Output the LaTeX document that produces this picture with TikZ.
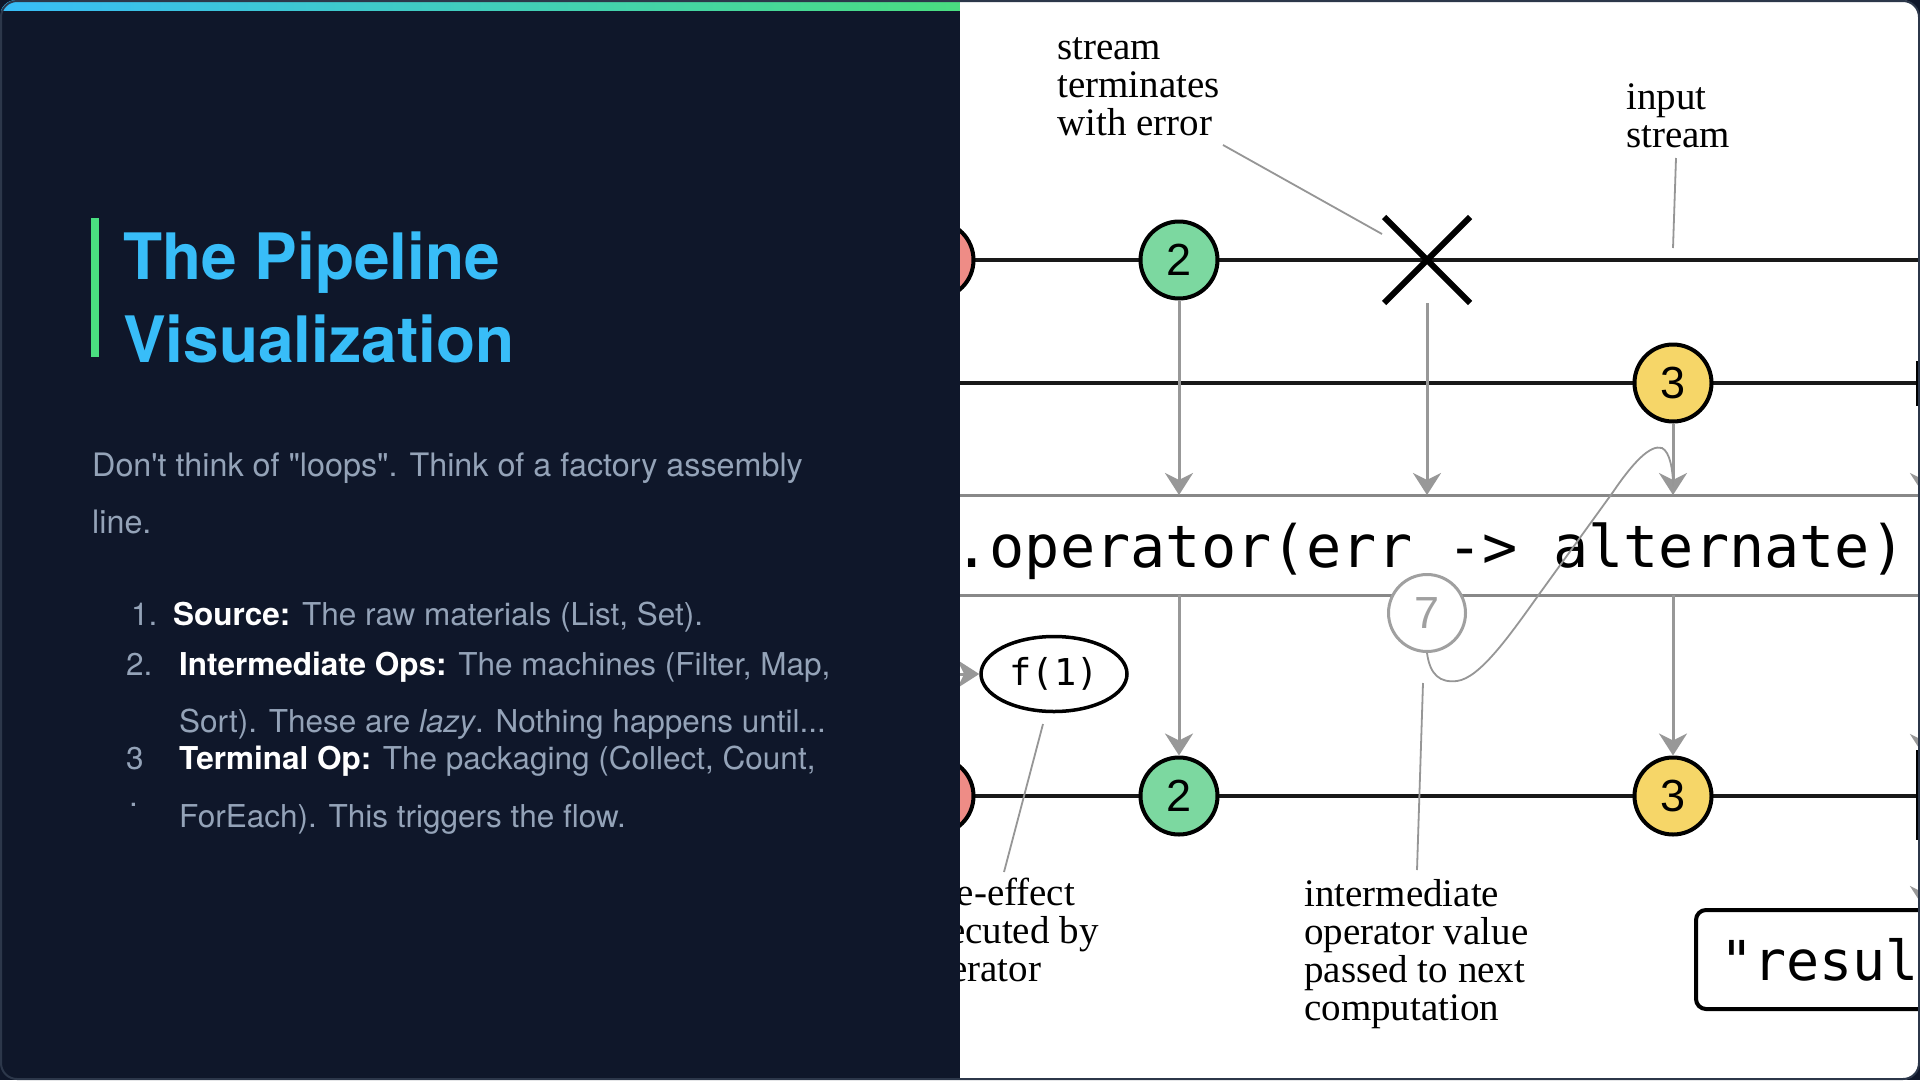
\documentclass[tikz,border=0pt]{standalone}
\usepackage{fontspec}
\setmainfont{Liberation Serif}
\newfontfamily\uifont{TeX Gyre Heros}
\newfontfamily\codefont{DejaVu Sans Mono}
\newfontfamily\digitfont{Liberation Sans}
\usetikzlibrary{
  arrows.meta,
  positioning,
  shapes.geometric,
  shapes.misc
}
\definecolor{slidebg}{RGB}{15,23,42}
\definecolor{slideedge}{RGB}{44,55,74}
\definecolor{skyblue}{RGB}{56,189,248}
\definecolor{mint}{RGB}{74,222,128}
\definecolor{slate}{RGB}{148,163,184}
\definecolor{ballgreen}{RGB}{124,216,160}
\definecolor{ballyellow}{RGB}{246,214,104}
\definecolor{ballred}{RGB}{238,140,134}
\definecolor{flowgray}{RGB}{152,152,152}
\definecolor{boxgray}{RGB}{136,136,136}
\definecolor{leadgray}{RGB}{150,150,150}
\definecolor{sevengray}{RGB}{160,160,160}
\newcommand{\fsz}[2]{\fontsize{#1}{#2}\selectfont}
\newcommand{\itemhead}[1]{{\color{white}\bfseries #1}}

\begin{document}
\begin{tikzpicture}[x=1pt, y=-1pt,
    slidetext/.style={anchor=base west, inner sep=0, text=slate, font=\uifont\fsz{31.5}{36}},
    titletext/.style={anchor=base west, inner sep=0, text=skyblue, font=\uifont\bfseries\fsz{64}{70}},
    stream/.style={draw=black!90, line width=4.5},
    ball/.style={circle, draw=black, line width=4, minimum size=77, inner sep=0, font=\digitfont\fsz{45}{45}},
    flow/.style={draw=flowgray, line width=3, -{Stealth[length=22, width=28, inset=7]}},
    leader/.style={draw=leadgray, line width=1.8},
    note/.style={anchor=base west, align=left, inner sep=0, font=\fsz{39}{38}},
    opbox/.style={draw=boxgray, line width=3, minimum width=1020, minimum height=100, inner sep=0, outer sep=0, text height=52, text depth=8, font=\codefont\fsz{58.5}{60}},
    endbar/.style={draw=black, line width=6}
  ]
  \useasboundingbox (0,0) rectangle (1920,1080);
  \fill[slidebg] (0,0) rectangle (1920,1080);

  \begin{scope}
    \clip[rounded corners=16] (0,0) rectangle (1920,1080);
    % Top Bar
    \shade[left color=skyblue, right color=mint] (0,0) rectangle (960,10);

    % Title
    \fill[mint] (91,218) rectangle (99,357);
    \node[titletext] (title1) at (123,279) {The Pipeline};
    \node[titletext] (title2) at (123,362) {Visualization};

    % Intro
    \node[slidetext, font=\uifont\fsz{32.3}{36}] (intro1) at (92,476) {Don't think of "loops". Think of a factory assembly};
    \node[slidetext, font=\uifont\fsz{32.3}{36}] (intro2) at (92,533) {line.};

    % Steps
    \node[slidetext] (num1) at (131,625) {1.};
    \node[slidetext] (step1) at (173,625) {\itemhead{Source:} The raw materials (List, Set).};
    \node[slidetext] (num2) at (126,675) {2.};
    \node[slidetext] (step2) at (179,675) {\itemhead{Intermediate Ops:} The machines (Filter, Map,};
    \node[slidetext] (step2b) at (179,732) {Sort). These are \textit{lazy}. Nothing happens until...};
    \node[slidetext] (num3) at (126,769) {3};
    \node[slidetext] (num3dot) at (129,806) {.};
    \node[slidetext] (step3) at (179,769) {\itemhead{Terminal Op:} The packaging (Collect, Count,};
    \node[slidetext] (step3b) at (179,827) {ForEach). This triggers the flow.};
  \end{scope}

  % Marble Diagram
  \begin{scope}
    \clip[rounded corners=16] (900,0) rectangle (1918,1080);
    \clip (960,0) rectangle (1918,1080);
    \fill[white] (960,0) rectangle (1918,1080);

    % rows
    \coordinate (row1w) at (900,260);  \coordinate (row1e) at (1940,260);
    \coordinate (row2w) at (900,383);  \coordinate (row2e) at (1940,383);
    \coordinate (row3w) at (900,796);  \coordinate (row3e) at (1940,796);
    \draw[stream] (row1w) -- (row1e);
    \draw[stream] (row2w) -- (row2e);
    \draw[stream] (row3w) -- (row3e);

    % operator box
    \node[opbox] (op) at (1430,545) {.operator(err -> alternate)};

    % input marbles
    \node[ball, fill=ballred] (r1) at (935,260) {};
    \node[ball, fill=ballgreen] (g1) at (1179,260) {2};
    \node[cross out, draw=black, line width=6, minimum size=80, inner sep=0] (x1) at (1427,260) {};
    \node[ball, fill=ballyellow] (y2) at (1673,383) {3};

    % output marbles
    \node[ball, fill=ballred] (r3) at (935,796) {};
    \node[ball, fill=ballgreen] (g3) at (1179,796) {2};
    \node[ball, fill=ballyellow] (y3) at (1673,796) {3};

    % Arrows
    \draw[flow] (g1) -- (g1 |- op.north);
    \draw[flow] (x1) -- (x1 |- op.north);
    \draw[flow] (y2) -- (y2 |- op.north);
    \draw[flow] (g1 |- op.south) -- (g3);
    \draw[flow] (y2 |- op.south) -- (y3);

    % cut-off marbles at the right edge
    \coordinate (end2t) at (1919,361); \coordinate (end2b) at (1919,406);
    \coordinate (end3t) at (1919,750); \coordinate (end3b) at (1919,840);
    \draw[endbar] (end2t) -- (end2b);
    \draw[endbar] (end3t) -- (end3b);
    \coordinate (edge1) at (1924,410); \coordinate (edge2) at (1924,495);
    \coordinate (edge3) at (1924,600); \coordinate (edge4) at (1924,756);
    \coordinate (edge5) at (1924,845); \coordinate (edge6) at (1924,908);
    \draw[flow] (edge1) -- (edge2);
    \draw[flow] (edge3) -- (edge4);
    \draw[flow] (edge5) -- (edge6);

    % side effect
    \coordinate (fin) at (930,674);
    \node[ellipse, draw=black, line width=3.5, fill=white, minimum width=146, minimum height=75, inner sep=0, font=\codefont\fsz{37}{37}] (f1) at (1054,674) {f(1)};
    \draw[flow] (fin) -- (f1.west);

    % intermediate value
    \node[ball, draw=sevengray, text=sevengray, fill=white, line width=3] (seven) at (1427,613) {7};
    \coordinate (merge) at (1673,486);
    \draw[leader] (seven.south) .. controls (1430,675) and (1440,683) .. (1457,681)
      .. controls (1480,678) and (1510,635) .. (1540,593) -- (1613,492)
      .. controls (1632,464) and (1650,444) .. (1662,448)
      .. controls (1670,452) and (1673,470) .. (merge);

    % result
    \node[draw=black, line width=4, rounded corners=10, minimum height=99, inner xsep=24, anchor=north west, font=\codefont\fsz{55}{55}] (res) at (1694,908) {"result"};

    % Notes
    \node[note] (errnote) at (1057,135) {stream\\terminates\\with error};
    \node[note] (innote) at (1626,147) {input\\stream};
    \node[note] (sidenote) at (911,981) {side-effect\\executed by\\operator};
    \node[note] (midnote) at (1304,1020) {intermediate\\operator value\\passed to next\\computation};

    \coordinate (errfoot) at (1223,145); \coordinate (errtip) at (1382,234);
    \coordinate (infoot) at (1676,158);  \coordinate (intip) at (1673,248);
    \coordinate (sidetop) at (1043,724); \coordinate (sidefoot) at (1004,872);
    \coordinate (midtop) at (1423,683);  \coordinate (midfoot) at (1417,870);
    \draw[leader] (errfoot) -- (errtip);
    \draw[leader] (infoot) -- (intip);
    \draw[leader] (sidetop) -- (sidefoot);
    \draw[leader] (midtop) -- (midfoot);
  \end{scope}

  % Slide Frame
  \draw[slideedge, line width=2, rounded corners=16] (1,1) rectangle (1919,1079);
\end{tikzpicture}
\end{document}
